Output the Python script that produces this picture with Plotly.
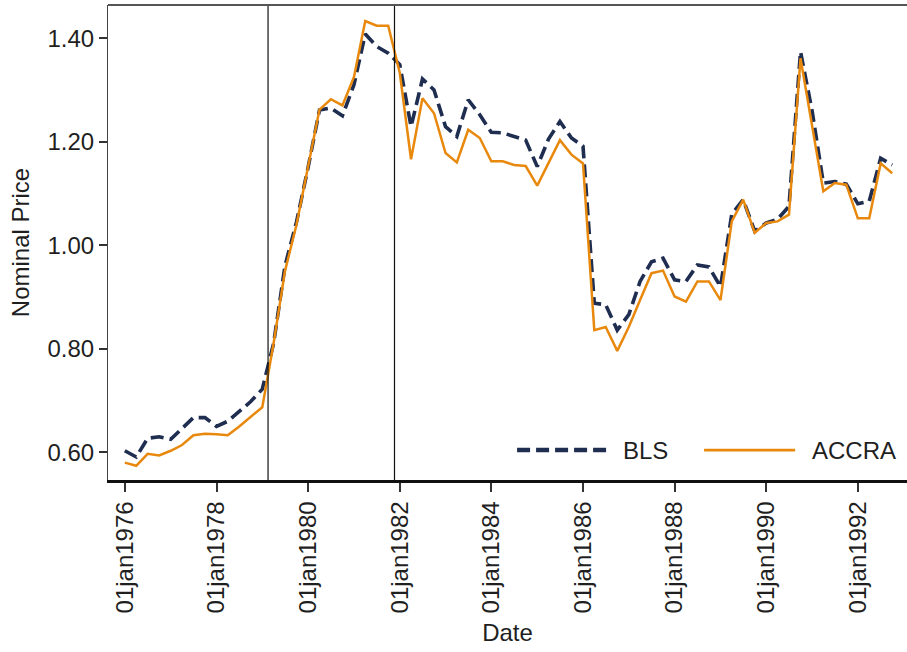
import pandas as pd
import plotly.graph_objects as go

# ---- data (quarterly, 1976Q1 .. 1992Q4) ----
start_quarter = "1976-01-01"
n_quarters = 68
dates = pd.date_range(start_quarter, periods=n_quarters, freq="QS")

bls = [0.603, 0.591, 0.627, 0.630, 0.625, 0.645, 0.667, 0.667,
       0.650, 0.660, 0.680, 0.698, 0.722, 0.810, 0.960, 1.045,
       1.150, 1.261, 1.265, 1.250, 1.310, 1.408, 1.384, 1.371,
       1.349, 1.229, 1.321, 1.300, 1.229, 1.210, 1.281, 1.252,
       1.218, 1.217, 1.210, 1.203, 1.152, 1.205, 1.239, 1.207,
       1.191, 0.888, 0.885, 0.836, 0.866, 0.930, 0.968, 0.975,
       0.933, 0.930, 0.962, 0.958, 0.920, 1.060, 1.088, 1.027,
       1.043, 1.050, 1.075, 1.374, 1.260, 1.120, 1.123, 1.118,
       1.080, 1.085, 1.168, 1.155]

accra = [0.580, 0.574, 0.597, 0.594, 0.603, 0.614, 0.633, 0.636,
         0.635, 0.633, 0.650, 0.668, 0.687, 0.810, 0.950, 1.040,
         1.150, 1.262, 1.282, 1.270, 1.325, 1.433, 1.424, 1.424,
         1.333, 1.166, 1.284, 1.255, 1.178, 1.160, 1.223, 1.207,
         1.162, 1.162, 1.155, 1.153, 1.115, 1.158, 1.203, 1.175,
         1.158, 0.836, 0.842, 0.796, 0.842, 0.894, 0.946, 0.951,
         0.901, 0.891, 0.930, 0.930, 0.894, 1.046, 1.088, 1.024,
         1.043, 1.046, 1.059, 1.361, 1.230, 1.104, 1.120, 1.117,
         1.052, 1.052, 1.158, 1.139]

event_dates = ["1979-02-16", "1981-11-20"]

x_tick_dates = ["1976-01-01", "1978-01-01", "1980-01-01", "1982-01-01",
                "1984-01-01", "1986-01-01", "1988-01-01", "1990-01-01",
                "1992-01-01"]
x_tick_text = ["01jan1976", "01jan1978", "01jan1980", "01jan1982",
               "01jan1984", "01jan1986", "01jan1988", "01jan1990",
               "01jan1992"]
y_tick_vals = [0.6, 0.8, 1.0, 1.2, 1.4]

series_names = ["BLS", "ACCRA"]

# ---- styling ----
NAVY = "#1E2D50"
ORANGE = "#E8890E"
TXT = "#1f1f1f"
FONT = "Liberation Sans, Arial, sans-serif"
FS = 24

fig = go.Figure()
fig.add_trace(go.Scatter(x=dates, y=bls, mode="lines", name=series_names[0],
                         line=dict(color=NAVY, width=3.6, dash="13px,6px"),
                         showlegend=False))
fig.add_trace(go.Scatter(x=dates, y=accra, mode="lines", name=series_names[1],
                         line=dict(color=ORANGE, width=2.5),
                         showlegend=False))

shapes = []
for d in event_dates:
    shapes.append(dict(type="line", xref="x", yref="paper", x0=d, x1=d,
                       y0=0, y1=1, line=dict(color="#111111", width=1.2)))
# top frame line
shapes.append(dict(type="line", xref="paper", yref="paper", x0=0, x1=1,
                   y0=1, y1=1, line=dict(color="#555555", width=2)))
# custom legend samples
leg_y = 0.063
shapes.append(dict(type="line", xref="paper", yref="paper", x0=0.512, x1=0.626,
                   y0=leg_y, y1=leg_y,
                   line=dict(color=NAVY, width=4.5, dash="13px,6px")))
shapes.append(dict(type="line", xref="paper", yref="paper", x0=0.746, x1=0.860,
                   y0=leg_y, y1=leg_y, line=dict(color=ORANGE, width=2.8)))

annotations = [
    dict(text=series_names[0], xref="paper", yref="paper", x=0.642, y=leg_y,
         xanchor="left", yanchor="middle", showarrow=False,
         font=dict(family=FONT, size=FS, color=TXT)),
    dict(text=series_names[1], xref="paper", yref="paper", x=0.878, y=leg_y,
         xanchor="left", yanchor="middle", showarrow=False,
         font=dict(family=FONT, size=FS, color=TXT)),
]

fig.update_layout(
    width=907, height=652,
    margin=dict(l=108, r=0, t=5, b=172),
    paper_bgcolor="white", plot_bgcolor="white",
    font=dict(family=FONT, size=FS, color=TXT),
    shapes=shapes, annotations=annotations,
    xaxis=dict(
        range=["1975-08-20", "1993-01-27"],
        tickmode="array", tickvals=x_tick_dates, ticktext=x_tick_text,
        tickangle=-90, ticks="outside", ticklen=9, tickwidth=1.5,
        tickcolor="#333333", showgrid=False, zeroline=False,
        showline=True, linecolor="#111111", linewidth=2.5,
        title=dict(text="Date", standoff=12,
                   font=dict(family=FONT, size=FS, color=TXT)),
        tickfont=dict(family=FONT, size=FS, color=TXT),
    ),
    yaxis=dict(
        range=[0.5465, 1.464],
        tickmode="array", tickvals=y_tick_vals, tickformat=".2f",
        ticks="outside", ticklen=8, tickwidth=1.5, tickcolor="#333333",
        showgrid=False, zeroline=False,
        showline=True, linecolor="#444444", linewidth=1.2,
        title=dict(text="Nominal Price", standoff=10,
                   font=dict(family=FONT, size=FS, color=TXT)),
        tickfont=dict(family=FONT, size=FS, color=TXT),
    ),
)

fig.write_html("out.html",
               config={"displayModeBar": False},
               post_script="document.body.style.margin='0px';document.body.style.padding='0px';")
